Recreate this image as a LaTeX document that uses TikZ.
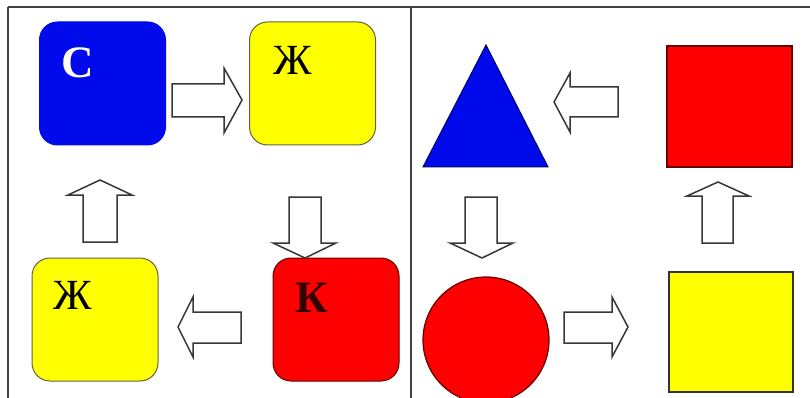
\documentclass[tikz,border=0pt]{standalone}
\usepackage{fontspec}
\setmainfont{Liberation Serif}
\definecolor{bblue}{RGB}{0,10,235}
\definecolor{yy}{RGB}{255,255,0}
\definecolor{rr}{RGB}{255,0,0}
\definecolor{arrowline}{RGB}{55,55,55}
\tikzset{
  rbox/.style={rounded corners=18pt, minimum width=126pt, minimum height=123pt, inner sep=0pt, line width=1pt},
  blockarrow/.style={draw=arrowline, fill=white, line width=1.5pt, line join=miter},
  letter/.style={inner sep=0pt, font=\fontsize{43}{43}\selectfont},
  frameline/.style={draw=black!75, line width=1.6pt}
}
\begin{document}
\begin{tikzpicture}[x=1pt,y=-1pt]
\useasboundingbox (0,0) rectangle (810,398);
\fill[white] (0,0) rectangle (810,398);
% frame
\draw[frameline] (8,7) -- (810,7);
\draw[frameline] (8,7) -- (8,398);
\draw[frameline] (411,7) -- (411,398);
% left panel boxes
\node[rbox, fill=bblue, draw=bblue] (c) at (102.5,83.5) {};
\node[rbox, fill=yy, draw=black!70!yellow] (zh1) at (312.5,83.5) {};
\node[rbox, fill=yy, draw=black!70!yellow] (zh2) at (95,319.5) {};
\node[rbox, fill=rr, draw=black!60!red] (k) at (336,319.5) {};
\node[letter, text=white, font=\fontsize{45}{45}\bfseries\selectfont] (lc) at (77.5,62.5) {С};
\node[letter, text=black] (lzh1) at (292.5,60) {Ж};
\node[letter, text=black] (lzh2) at (73,295) {Ж};
\node[letter, text=black!80!red, font=\fontsize{45}{45}\bfseries\selectfont] (lk) at (312,297.5) {К};
% left panel arrows
\draw[blockarrow] (172,84) -- (224,84) -- (224,68) -- (242,100) -- (224,133) -- (224,117) -- (172,117) -- cycle;
\draw[blockarrow] (289,197) -- (321,197) -- (321,243) -- (336,243) -- (305,258) -- (273,243) -- (289,243) -- cycle;
\draw[blockarrow] (241,312) -- (193,312) -- (193,297) -- (178,327) -- (193,357) -- (193,343) -- (241,343) -- cycle;
\draw[blockarrow] (83,242) -- (83,195) -- (68,195) -- (100,180) -- (132,195) -- (117,195) -- (117,242) -- cycle;
% right panel shapes
\draw[fill=bblue, draw=black!60!blue, line width=1pt] (486,45) -- (548,167) -- (423,167) -- cycle;
\draw[fill=rr, draw=black!60!red, line width=1.2pt] (667,46) rectangle (792,167);
\draw[fill=rr, draw=black!60!red, line width=1.2pt] (486,340) circle[radius=63pt];
\draw[fill=yy, draw=black!80, line width=1.4pt] (669,272) rectangle (793,392);
% right panel arrows
\draw[blockarrow] (618,87) -- (570,87) -- (570,73) -- (554,102) -- (570,132) -- (570,117) -- (618,117) -- cycle;
\draw[blockarrow] (702,243) -- (702,196) -- (687,196) -- (718,182) -- (749,196) -- (733,196) -- (733,243) -- cycle;
\draw[blockarrow] (465,197) -- (497,197) -- (497,243) -- (513,243) -- (482,258) -- (450,243) -- (465,243) -- cycle;
\draw[blockarrow] (564,312) -- (612,312) -- (612,297) -- (628,327) -- (612,357) -- (612,343) -- (564,343) -- cycle;
\end{tikzpicture}
\end{document}
